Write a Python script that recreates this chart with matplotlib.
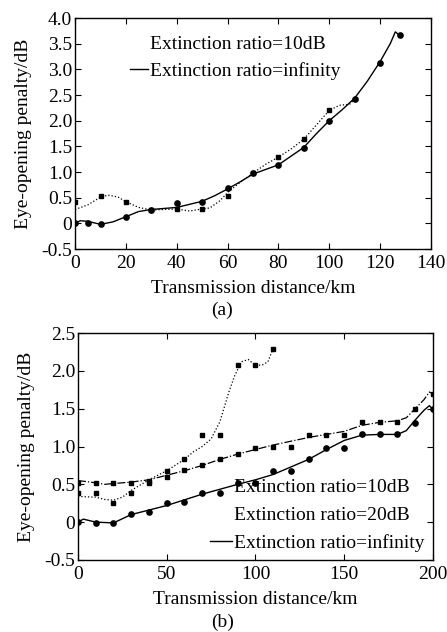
import numpy as np
import matplotlib
matplotlib.use("Agg")
import matplotlib.pyplot as plt
from matplotlib.lines import Line2D
from matplotlib.ticker import FuncFormatter

plt.rcParams['font.family'] = ['Liberation Serif', 'DejaVu Serif']
plt.rcParams['font.size'] = 14

# ---- panel (a) ----
a_inf_mx = [0, 5, 10, 20, 30, 40, 50, 60, 70, 80, 90, 100, 110, 120, 128]
a_inf_my = [0.0, 0.0, -0.01, 0.12, 0.26, 0.40, 0.42, 0.68, 0.98, 1.13, 1.47, 2.0, 2.42, 3.12, 3.67]
a_inf_cx = [0, 2, 5, 10, 15, 20, 25, 30, 40, 50, 55, 60, 65, 70, 75, 80, 90, 95, 100, 105,
            110, 115, 120, 124, 126, 128]
a_inf_cy = [0.0, 0.05, 0.04, -0.02, 0.03, 0.13, 0.23, 0.27, 0.31, 0.43, 0.54, 0.67, 0.81, 0.96,
            1.05, 1.14, 1.48, 1.75, 2.0, 2.21, 2.44, 2.77, 3.15, 3.5, 3.73, 3.65]

a_10_mx = [0, 10, 20, 30, 40, 50, 60, 70, 80, 90, 100]
a_10_my = [0.42, 0.53, 0.41, 0.26, 0.27, 0.27, 0.53, 0.98, 1.29, 1.64, 2.2]
a_10_cx = [0, 5, 10, 13, 17, 20, 25, 30, 40, 45, 50, 53, 57, 60, 65, 70, 75, 80, 85, 90, 95,
           100, 104, 108, 110]
a_10_cy = [0.27, 0.36, 0.51, 0.55, 0.51, 0.42, 0.31, 0.26, 0.28, 0.24, 0.28, 0.30, 0.44, 0.60,
           0.80, 0.98, 1.15, 1.29, 1.45, 1.64, 1.92, 2.2, 2.3, 2.32, 2.42]

# ---- panel (b) ----
b_inf_mx = [0, 10, 20, 30, 40, 50, 60, 70, 80, 90, 100, 110, 120, 130, 140, 150, 160, 170, 180, 190, 200]
b_inf_my = [0.0, -0.01, -0.01, 0.11, 0.14, 0.25, 0.26, 0.38, 0.39, 0.52, 0.52, 0.67, 0.68, 0.83,
            0.98, 0.98, 1.16, 1.16, 1.16, 1.31, 1.5]
b_inf_cx = [0, 3, 10, 20, 30, 50, 70, 90, 100, 110, 130, 140, 150, 160, 170, 180, 185, 190, 195, 198, 200]
b_inf_cy = [0.0, 0.04, 0.0, -0.01, 0.10, 0.22, 0.37, 0.50, 0.56, 0.63, 0.83, 0.96, 1.08, 1.15, 1.16,
            1.16, 1.21, 1.35, 1.48, 1.54, 1.49]

b_20_mx = [0, 10, 20, 30, 40, 50, 60, 70, 80, 90, 100, 110, 120, 130, 140, 150, 160, 170, 180, 190, 200]
b_20_my = [0.52, 0.52, 0.52, 0.52, 0.55, 0.60, 0.69, 0.75, 0.83, 0.90, 0.98, 0.99, 1.0, 1.15,
           1.15, 1.15, 1.32, 1.32, 1.32, 1.5, 1.7]
b_20_cx = [0, 10, 15, 20, 30, 40, 50, 60, 70, 80, 90, 100, 110, 120, 130, 140, 150, 160, 170,
           180, 185, 190, 195, 198, 200]
b_20_cy = [0.55, 0.52, 0.50, 0.51, 0.53, 0.56, 0.62, 0.68, 0.75, 0.83, 0.90, 0.96, 1.02, 1.07,
           1.12, 1.16, 1.20, 1.28, 1.32, 1.34, 1.38, 1.50, 1.62, 1.72, 1.70]

b_10_mx = [0, 10, 20, 30, 40, 50, 60, 70, 80, 90, 100, 110]
b_10_my = [0.38, 0.39, 0.25, 0.39, 0.52, 0.68, 0.83, 1.15, 1.15, 2.08, 2.08, 2.29]
b_10_cx = [0, 10, 15, 20, 25, 30, 40, 50, 60, 65, 70, 75, 80, 85, 88, 92, 96, 100, 104, 107, 110]
b_10_cy = [0.34, 0.33, 0.30, 0.29, 0.33, 0.42, 0.56, 0.68, 0.83, 0.93, 1.0, 1.1, 1.33, 1.72,
           1.92, 2.12, 2.15, 2.07, 2.08, 2.12, 2.3]

xlabel = "Transmission distance/km"
ylabel = "Eye-opening penalty/dB"
lab_10 = "Extinction ratio=10dB"
lab_20 = "Extinction ratio=20dB"
lab_inf = "Extinction ratio=infinity"


def yfmt(v, pos):
    return "0" if abs(v) < 1e-9 else f"{v:.1f}"


def style_axes(ax):
    ax.tick_params(direction="in", top=True, right=True, length=4, width=0.8)
    ax.tick_params(axis="x", pad=4)
    ax.tick_params(axis="y", pad=2)
    for s in ax.spines.values():
        s.set_linewidth(1.0)
    ax.yaxis.set_major_formatter(FuncFormatter(yfmt))
    ax.set_xlabel(xlabel, labelpad=6)
    ax.set_ylabel(ylabel, labelpad=7)


fig = plt.figure(figsize=(4.47, 6.32), dpi=100)

# (a)
ax1 = fig.add_axes([0.168, 0.606, 0.796, 0.3655])
ax1.plot(a_10_cx, a_10_cy, ":", color="k", lw=0.9)
ax1.plot(a_10_mx, a_10_my, "s", color="k", ms=3.5)
ax1.plot(a_inf_cx, a_inf_cy, "-", color="k", lw=1.0)
ax1.plot(a_inf_mx, a_inf_my, "o", color="k", ms=3.8)
ax1.set_xlim(0, 140)
ax1.set_ylim(-0.5, 4.0)
ax1.set_xticks(np.arange(0, 141, 20))
ax1.set_yticks(np.arange(-0.5, 4.01, 0.5))
style_axes(ax1)
h_a = [Line2D([], [], linestyle="none"), Line2D([], [], color="k", lw=1.0)]
ax1.legend(h_a, [lab_10, lab_inf], loc="upper left", bbox_to_anchor=(0.154, 0.924),
           frameon=False, borderpad=0, borderaxespad=0, handlelength=0.95,
           handletextpad=0.1, labelspacing=0.45)

# (b)
ax2 = fig.add_axes([0.1745, 0.114, 0.794, 0.359])
ax2.plot(b_10_cx, b_10_cy, ":", color="k", lw=0.9)
ax2.plot(b_10_mx, b_10_my, "s", color="k", ms=3.5)
ax2.plot(b_20_cx, b_20_cy, "-.", color="k", lw=0.9)
ax2.plot(b_20_mx, b_20_my, "s", color="k", ms=3.5)
ax2.plot(b_inf_cx, b_inf_cy, "-", color="k", lw=1.0)
ax2.plot(b_inf_mx, b_inf_my, "o", color="k", ms=3.8)
ax2.set_xlim(0, 200)
ax2.set_ylim(-0.5, 2.5)
ax2.set_xticks(np.arange(0, 201, 50))
ax2.set_yticks(np.arange(-0.5, 2.51, 0.5))
style_axes(ax2)
h_b = [Line2D([], [], linestyle="none"), Line2D([], [], linestyle="none"),
       Line2D([], [], color="k", lw=1.0)]
ax2.legend(h_b, [lab_10, lab_20, lab_inf], loc="upper left", bbox_to_anchor=(0.372, 0.36),
           frameon=False, borderpad=0, borderaxespad=0, handlelength=1.15,
           handletextpad=0.1, labelspacing=0.52)

fig.text(0.497, 0.509, "(a)", ha="center", va="center")
fig.text(0.497, 0.016, "(b)", ha="center", va="center")

fig.savefig("out.png", dpi=100)
